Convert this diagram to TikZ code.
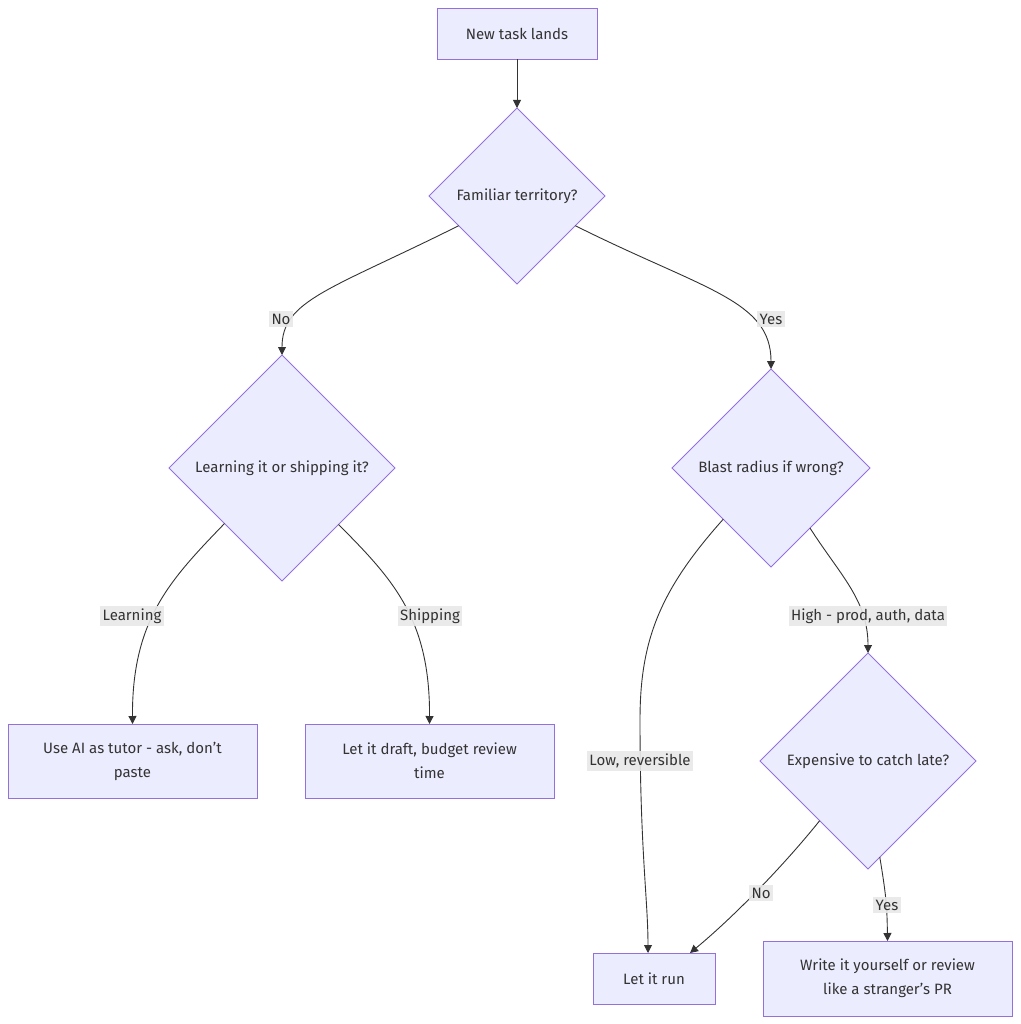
\documentclass[tikz,border=0pt]{standalone}
\usepackage{fontspec}
\setmainfont{Fira Sans}
\usetikzlibrary{shapes.geometric,arrows.meta}
\definecolor{nodefill}{HTML}{ECECFF}
\definecolor{nodeline}{HTML}{9370DB}
\definecolor{edgecol}{HTML}{333333}
\definecolor{lblfill}{HTML}{E8E8E8}
\tikzset{
  base/.style={draw=nodeline, fill=nodefill, line width=0.9pt, text=edgecol, font=\fontsize{15}{24}\selectfont, outer sep=0pt},
  box/.style={base, rectangle, inner sep=2pt, align=center},
  decision/.style={base, diamond, aspect=1, inner sep=1pt},
  conn/.style={draw=edgecol, line width=0.9pt, -{Triangle[length=8pt,width=8pt]}},
  lbl/.style={fill=lblfill, fill opacity=0.9, text opacity=1, text=edgecol, inner sep=2.5pt, font=\fontsize{15}{17}\selectfont}
}
\begin{document}
\begin{tikzpicture}[x=1pt,y=-1pt]
\useasboundingbox (0,0) rectangle (1020,1024);
% nodes
\node[box, minimum width=160pt, minimum height=51pt] (A) at (517,33.5) {New task lands};
\node[decision, minimum width=176pt, minimum height=176pt] (B) at (517,196) {Familiar territory?};
\node[decision, minimum width=226pt, minimum height=226pt] (C) at (282,468) {Learning it or shipping it?};
\node[decision, minimum width=198pt, minimum height=198pt] (D) at (771,468) {Blast radius if wrong?};
\node[box, minimum width=249pt, minimum height=74pt] (E) at (132.5,761) {Use AI as tutor - ask, don't\\paste};
\node[box, minimum width=249pt, minimum height=74pt] (F) at (429.5,761) {Let it draft, budget review\\time};
\node[decision, minimum width=216pt, minimum height=216pt] (G) at (868,761) {Expensive to catch late?};
\node[box, minimum width=122pt, minimum height=51pt] (H) at (654,978.5) {Let it run};
\node[box, minimum width=249pt, minimum height=75pt] (I) at (887.5,978.5) {Write it yourself or review\\like a stranger's PR};
% connectors
\draw[conn] (A.south) -- (B.north);
\draw[conn] (B.207) .. controls (330,290) and (282,300) .. (C.north);
\draw[conn] (B.333) .. controls (704,290) and (771,300) .. (D.north);
\draw[conn] (C.224.5) .. controls (170,580) and (132,620) .. (E.north);
\draw[conn] (C.315.5) .. controls (394,580) and (430,620) .. (F.north);
\draw[conn] (D.227) .. controls (660,590) and (640,640) .. (640,720) .. controls (640,850) and (648,900) .. ([xshift=-6pt]H.north);
\draw[conn] (D.303) .. controls (840,575) and (868,600) .. (G.north);
\draw[conn] (G.231) .. controls (780,870) and (730,920) .. ([xshift=36pt]H.north);
\draw[conn] (G.277.7) .. controls (886,895) and (887,905) .. (I.north);
% edge labels
\node[lbl] (lNo1) at (281,319) {No};
\node[lbl] (lYes1) at (771,319) {Yes};
\node[lbl] (lLearn) at (132,616) {Learning};
\node[lbl] (lShip) at (430,616) {Shipping};
\node[lbl] (lLow) at (640,761) {Low, reversible};
\node[lbl] (lHigh) at (868,616) {High - prod, auth, data};
\node[lbl] (lNo2) at (761,893) {No};
\node[lbl] (lYes2) at (887,905) {Yes};
\end{tikzpicture}
\end{document}
